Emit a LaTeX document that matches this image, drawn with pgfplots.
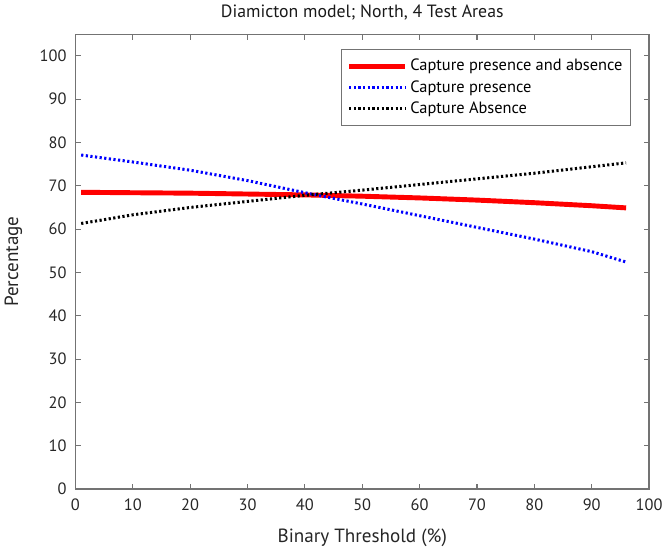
\documentclass[border=0pt]{standalone}
\usepackage{fontspec}
\setmainfont{PT Sans}
\usepackage{pgfplots}
\pgfplotsset{compat=1.18}

\begin{document}
\begin{tikzpicture}
  \begin{axis}[
      scale only axis,
      width=420pt,
      height=333pt,
      xmin=0, xmax=100,
      ymin=0, ymax=105,
      xtick={0,10,...,100},
      ytick={0,10,...,100},
      tick align=inside,
      major tick length=4pt,
      axis line style={draw=black!55, line width=0.9pt},
      tick style={draw=black!55, line width=0.8pt},
      /pgf/number format/assume math mode=true,
      ticklabel style={font=\fontsize{12}{14}\selectfont, text=black!85},
      xticklabel style={yshift=-4pt},
      yticklabel style={xshift=-3pt},
      label style={font=\fontsize{14}{16}\selectfont, text=black!85},
      xlabel style={yshift=-6pt},
      ylabel style={yshift=6pt},
      title style={font=\fontsize{13}{15}\selectfont, text=black!90, yshift=1pt},
      title={Diamicton model; North, 4 Test Areas},
      xlabel={Binary Threshold (\%)},
      ylabel={Percentage},
      legend style={
        at={(0.969,0.967)}, anchor=north east,
        draw=black!55, line width=0.8pt,
        font=\fontsize{12}{14}\selectfont,
        row sep=1.5pt,
        inner ysep=5pt, inner xsep=4pt,
        cells={anchor=west},
      },
      legend cell align=left,
      legend image post style={xscale=2.4},
    ]
    % capture presence and absence
    \addplot[red, line width=3.6pt] coordinates {
      (1,68.5) (10,68.4) (20,68.3) (30,68.1) (40,67.9) (50,67.6)
      (60,67.2) (70,66.7) (80,66.1) (90,65.4) (96,64.9)
    };
    % capture presence
    \addplot[blue, line width=2.2pt, dash pattern=on 1.6pt off 1.8pt] coordinates {
      (1,77.1) (10,75.5) (20,73.6) (30,71.2) (40,68.4) (50,65.8)
      (60,63.1) (70,60.4) (80,57.7) (90,54.8) (96,52.4)
    };
    % capture absence
    \addplot[black, line width=2.2pt, dash pattern=on 1.6pt off 1.8pt] coordinates {
      (1,61.3) (10,63.3) (20,65.0) (30,66.4) (40,67.8) (50,69.0)
      (60,70.3) (70,71.6) (80,72.9) (90,74.4) (96,75.3)
    };
    \legend{Capture presence and absence, Capture presence, Capture Absence}
  \end{axis}
\end{tikzpicture}
\end{document}
